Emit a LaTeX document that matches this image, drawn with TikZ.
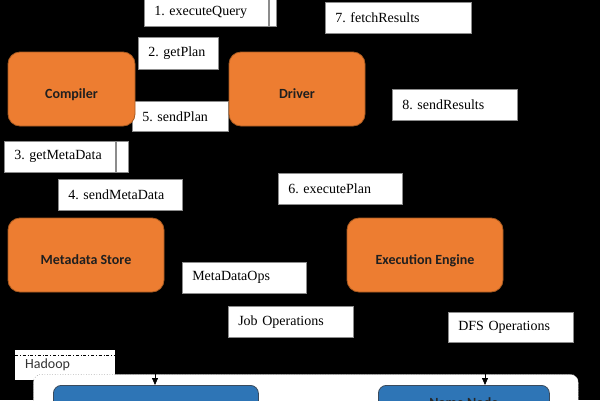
\documentclass[tikz,border=0pt]{standalone}
\usepackage{fontspec}
\setmainfont{Liberation Serif}
\newfontfamily\calfont{Carlito}
\usetikzlibrary{arrows.meta,calc}
\definecolor{orangefill}{HTML}{ED7D31}
\definecolor{orangeline}{HTML}{A85A20}
\definecolor{bluefill}{HTML}{2E75B6}
\definecolor{blueline}{HTML}{3A4A5C}
\definecolor{boxline}{HTML}{8C8C8C}
\frenchspacing
\begin{document}
\frenchspacing
\begin{tikzpicture}[x=1pt,y=-1pt,
  lbl/.style={draw=boxline, line width=0.5pt, fill=white, anchor=north west,
    font=\fontsize{14}{16}\selectfont, inner xsep=10pt, inner ysep=0pt, align=left},
  strip/.style={draw=boxline, line width=0.5pt, fill=white},
  orangebox/.style={draw=orangeline, line width=0.8pt, fill=orangefill, rounded corners=12pt,
    font=\calfont\bfseries\fontsize{14}{16}\selectfont, text=black!88, inner sep=0pt,
    text height=19pt, text depth=0pt},
  bluebox/.style={draw=blueline, line width=0.8pt, fill=bluefill, rounded corners=8pt,
    anchor=north west, font=\calfont\bfseries\fontsize{14}{16}\selectfont, text=black!85, inner sep=0pt},
  arr/.style={draw=black, line width=0.75pt, -{Triangle[width=6pt,length=7pt]}}]
\useasboundingbox (0,0) rectangle (600,400);
\clip (0,0) rectangle (600,400);
\fill[black] (0,0) rectangle (600,400);

% extra white strips beside two labels
\filldraw[strip] (269,-1) rectangle (276,26);
\filldraw[strip] (116,141) rectangle (128,172);

% step labels
\node[lbl, minimum height=27pt, text width=104pt] (l1) at (144,-1) {1. executeQuery};
\node[lbl, minimum height=32pt, text width=60pt] (l2) at (138,37) {2. getPlan};
\node[lbl, minimum height=30pt, text width=76pt] (l5) at (132,101) {5. sendPlan};
\node[lbl, minimum height=31pt, text width=91pt] (l3) at (4,141) {3. getMetaData};
\node[lbl, minimum height=31pt, text width=104pt] (l4) at (58,179) {4. sendMetaData};
\node[lbl, minimum height=31pt, text width=126pt] (l7) at (325,2) {7. fetchResults};
\node[lbl, minimum height=31pt, text width=105pt] (l8) at (392,89) {8. sendResults};
\node[lbl, minimum height=31pt, text width=104pt] (l6) at (278,173) {6. executePlan};
\node[lbl, minimum height=31pt, text width=104pt] (lmo) at (182,262) {MetaDataOps};
\node[lbl, minimum height=31pt, text width=105pt] (ljo) at (228,306) {Job Operations};
\node[lbl, minimum height=30pt, text width=105pt] (ldfs) at (448,312) {DFS Operations};

% main components
\node[orangebox, minimum width=127pt, minimum height=74pt] (compiler) at (71.5,89) {Compiler};
\node[orangebox, minimum width=136pt, minimum height=74pt] (driver) at (297,89) {Driver};
\node[orangebox, minimum width=156pt, minimum height=74pt] (meta) at (86,255) {Metadata Store};
\node[orangebox, minimum width=156pt, minimum height=74pt] (engine) at (425,255) {Execution Engine};

% Hadoop tag
\node[fill=white, anchor=north west, minimum width=100pt, minimum height=30pt, inner xsep=10pt,
  inner ysep=0pt, text width=80pt, align=left, font=\calfont\fontsize{14}{16}\selectfont,
  text=black!80] (hadooptag) at (15,350) {Hadoop};
\draw[line width=0.6pt, dash dot] ($(hadooptag.north west)+(0,5)$) -- ($(hadooptag.north east)+(0,5)$);

% Hadoop container
\node[draw=boxline, dotted, line width=0.6pt, fill=white, rounded corners=8pt, anchor=north west,
  minimum width=545pt, minimum height=80pt] (hadoop) at (33,374) {};

% inner boxes
\node[bluebox, minimum width=205pt, minimum height=60pt] (jt) at (53,385) {};
\node[bluebox, minimum width=171pt, minimum height=34pt] (nn) at (378,385) {Name Node};

% arrows into the Hadoop boxes
\coordinate (a1) at (155,360);
\coordinate (a2) at (485,360);
\draw[arr] (a1) -- (a1 |- jt.north);
\draw[arr] (a2) -- (a2 |- nn.north);
\end{tikzpicture}
\end{document}
